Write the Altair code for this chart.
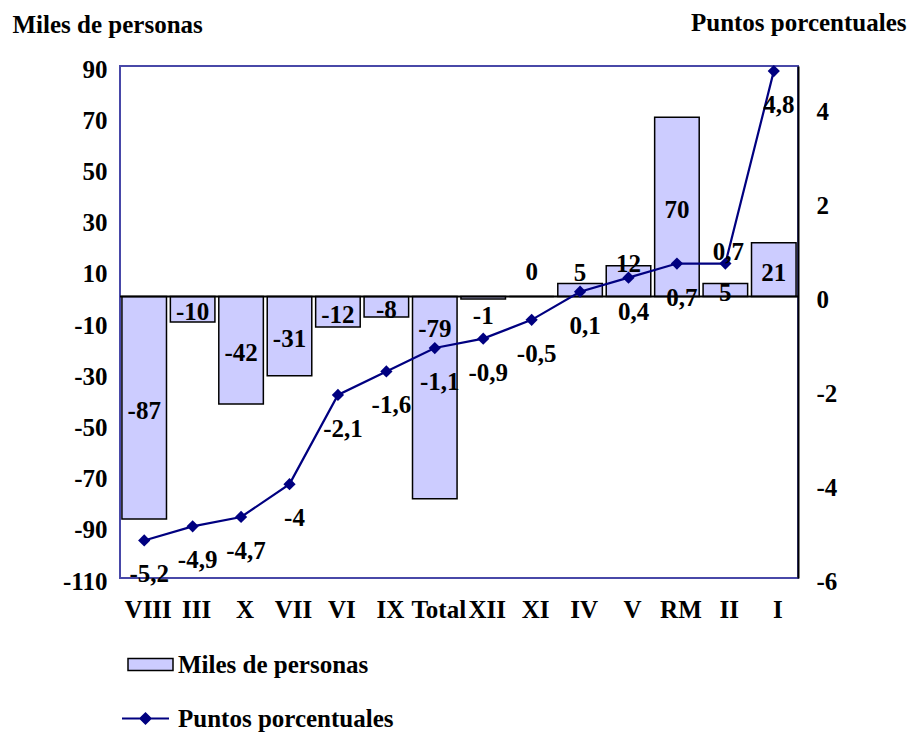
import altair as alt
import pandas as pd

categories = ["VIII", "III", "X", "VII", "VI", "IX", "Total", "XII", "XI", "IV", "V", "RM", "II", "I"]
miles = [-87, -10, -42, -31, -12, -8, -79, -1, 0, 5, 12, 70, 5, 21]
puntos = [-5.2, -4.9, -4.7, -4.0, -2.1, -1.6, -1.1, -0.9, -0.5, 0.1, 0.4, 0.7, 0.7, 4.8]
left_ticks = [-110, -90, -70, -50, -30, -10, 10, 30, 50, 70, 90]
right_ticks = [-6, -4, -2, 0, 2, 4]
serie_bar = "Miles de personas"
serie_line = "Puntos porcentuales"

df = pd.DataFrame({"cat": categories, "miles": miles, "puntos": puntos})
df["mid"] = df["miles"] / 2
df["miles_lbl"] = df["miles"].astype(str)
df["puntos_lbl"] = [f"{v:g}".replace(".", ",") for v in puntos]
df["s1"] = serie_bar
df["s2"] = serie_line

FONT = "Liberation Serif"
FS = 25
BAR_FILL = "#CCCCFF"
NAVY = "#000080"

x_enc = alt.X(
    "cat:N", sort=categories,
    scale=alt.Scale(paddingInner=0.08, paddingOuter=0.04),
    axis=alt.Axis(title=None, labelAngle=0, labelFont=FONT, labelFontSize=FS,
                  labelFontWeight="bold", labelColor="black", ticks=False, tickSize=0,
                  domain=False, labelPadding=19, labelOffset=4, labelOverlap=False),
)

left_scale = alt.Scale(domain=[-110, 90], nice=False, zero=False)
right_scale = alt.Scale(domain=[-6, 54 / 11], nice=False, zero=False)

left_axis = alt.Axis(values=left_ticks, title=serie_bar, titleAngle=0, titleAlign="left",
                     titleBaseline="alphabetic", titleX=-108, titleY=-34,
                     titleFont=FONT, titleFontSize=FS, titleFontWeight="bold", titleColor="black",
                     labelFont=FONT, labelFontSize=FS, labelFontWeight="bold", labelColor="black",
                     labelExpr="toString(datum.value)",
                     grid=False, ticks=False, domain=False, labelPadding=13, labelOffset=3)

right_axis = alt.Axis(orient="right", values=right_ticks, title=serie_line, titleAngle=0,
                      titleAlign="right", titleBaseline="alphabetic", titleX=108, titleY=-36,
                      titleFont=FONT, titleFontSize=FS, titleFontWeight="bold", titleColor="black",
                      labelFont=FONT, labelFontSize=FS, labelFontWeight="bold", labelColor="black",
                      labelExpr="toString(datum.value)",
                      grid=False, ticks=False, domain=True, domainColor="black", domainWidth=2,
                      labelPadding=18, labelOffset=3)


def left_y(field):
    return alt.Y(f"{field}:Q", scale=left_scale, axis=left_axis, title=serie_bar)


def right_y(field):
    return alt.Y(f"{field}:Q", scale=right_scale, axis=right_axis, title=serie_line)


bars = alt.Chart(df).mark_bar(stroke="black", strokeWidth=1.5).encode(
    x=x_enc,
    y=left_y("miles"),
    fill=alt.Fill("s1:N", scale=alt.Scale(domain=[serie_bar], range=[BAR_FILL]),
                  legend=alt.Legend(title=None, orient="none", legendX=7, legendY=575,
                                    symbolType="M-1,-0.27H1V0.27H-1Z", symbolSize=2025,
                                    symbolStrokeColor="black", symbolStrokeWidth=1.5,
                                    symbolFillColor=BAR_FILL,
                                    labelFont=FONT, labelFontSize=FS, labelFontWeight="bold",
                                    labelColor="black", labelOffset=4, padding=0,
                                    labelLimit=400)),
)

zero_rule = alt.Chart(pd.DataFrame({"z": [0]})).mark_rule(color="black", strokeWidth=2).encode(
    y=left_y("z")
)


def bar_label(cats, field, dy):
    return alt.Chart(df).transform_filter(
        alt.FieldOneOfPredicate(field="cat", oneOf=cats)
    ).mark_text(font=FONT, fontSize=FS, fontWeight="bold", color="black",
                align="center", baseline="middle", dy=dy).encode(
        x=x_enc,
        y=left_y(field),
        text="miles_lbl:N",
    )


centered = ["VIII", "III", "X", "VII", "VI", "IX", "RM", "II", "I"]
bar_labels = [
    bar_label(centered, "mid", 3),
    bar_label(["XI"], "miles", -24),
    bar_label(["IV"], "miles", -11),
    bar_label(["V"], "miles", -2),
    bar_label(["XII"], "miles", 17),
    bar_label(["Total"], "mid", -69),
]

left = alt.layer(bars, zero_rule, *bar_labels)

line = alt.Chart(df).mark_line(strokeWidth=2.2).encode(
    x=x_enc,
    y=right_y("puntos"),
    stroke=alt.Stroke("s2:N", scale=alt.Scale(domain=[serie_line], range=[NAVY]),
                      legend=alt.Legend(title=None, orient="none", legendX=1, legendY=628,
                                        symbolType="M-1,0H1M-0.22,0L0,-0.22L0.22,0L0,0.22Z",
                                        symbolSize=2209, symbolStrokeColor=NAVY,
                                        symbolFillColor=NAVY, symbolStrokeWidth=2,
                                        labelFont=FONT, labelFontSize=FS, labelFontWeight="bold",
                                        labelColor="black", labelOffset=8, padding=0,
                                        labelLimit=400)),
)

points = alt.Chart(df).mark_point(shape="diamond", filled=True, size=150, color=NAVY, opacity=1).encode(
    x=x_enc,
    y=right_y("puntos"),
)


def line_label(cats, dx, dy):
    return alt.Chart(df).transform_filter(
        alt.FieldOneOfPredicate(field="cat", oneOf=cats)
    ).mark_text(font=FONT, fontSize=FS, fontWeight="bold", color="black",
                align="center", baseline="middle", dx=dx, dy=dy).encode(
        x=x_enc,
        y=right_y("puntos"),
        text="puntos_lbl:N",
    )


line_labels = [
    line_label([c for c in categories if c != "II"], 5, 34),
    line_label(["II"], 3, -12),
]

right = alt.layer(line, points, *line_labels)

chart = alt.layer(left, right).resolve_scale(y="independent").properties(
    width=678, height=512,
    background="white",
    autosize=alt.AutoSizeParams(type="none"),
    padding={"left": 112, "top": 58, "right": 114, "bottom": 158},
).configure_view(stroke="#4848A8", strokeWidth=2)

chart.save("out.html", embed_options={"renderer": "svg", "actions": False})
